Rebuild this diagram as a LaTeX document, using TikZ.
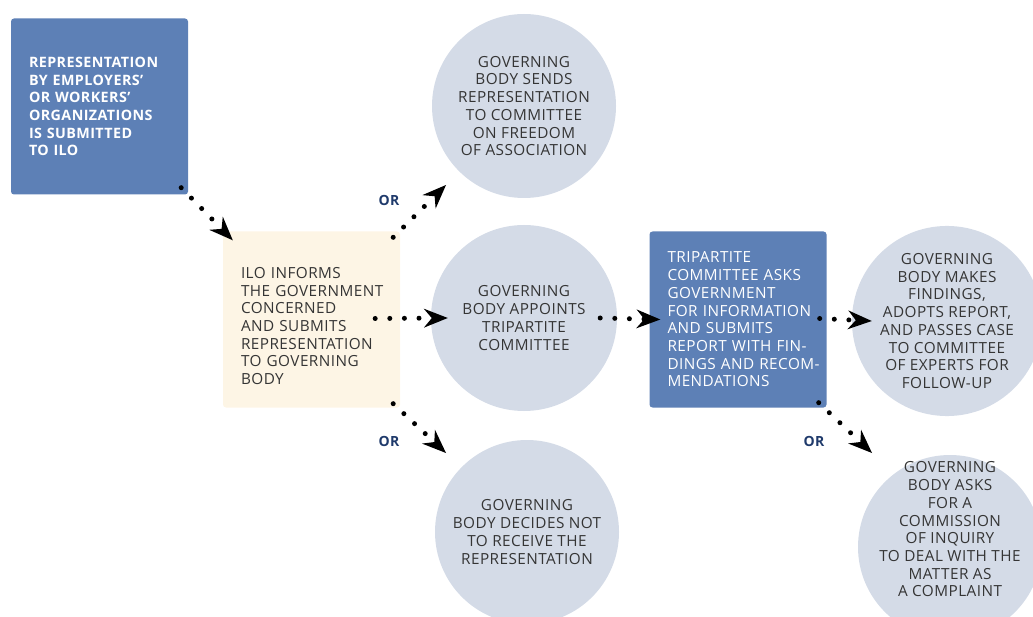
\documentclass[tikz,border=0pt]{standalone}
\usepackage{fontspec}
\setmainfont{Open Sans}[LetterSpace=3]
\usetikzlibrary{arrows.meta}
\definecolor{boxblue}{HTML}{5D80B6}
\definecolor{cream}{HTML}{FDF5E5}
\definecolor{circ}{HTML}{D4DBE7}
\definecolor{txt}{HTML}{353535}
\definecolor{ornavy}{HTML}{1F3A6B}
\begin{document}
\begin{tikzpicture}[x=1pt,y=-1pt,
  fnt/.style={font=\fontsize{15.3}{17.7}\selectfont},
  boxbase/.style={fnt, rectangle, rounded corners=3pt, minimum width=177pt, minimum height=176pt,
    text width=141pt, align=left, inner sep=0pt,
    execute at begin node={\hyphenpenalty=10000 \exhyphenpenalty=10000 }},
  bluebox/.style={boxbase, fill=boxblue, text=white},
  creambox/.style={boxbase, fill=cream, text=txt},
  disc/.style={fnt, circle, fill=circ, text=txt, minimum size=184pt, inner sep=0pt, align=center},
  conn/.style={line width=5pt, line cap=round, dash pattern=on 0pt off 14.6pt,
    -{Stealth[length=24pt 0 0, width=19pt 0 0, inset=8pt 0, line width=0pt 0 0]}},
  ortext/.style={font=\bfseries\fontsize{14}{16}\selectfont, text=ornavy}
]
\useasboundingbox (0,0) rectangle (1033,617);

\node[bluebox, font=\bfseries\fontsize{14.3}{17.7}\selectfont] (b1) at (99.5,106.5)
  {REPRESENTATION\\BY~EMPLOYERS’\\OR~WORKERS’\\ORGANIZATIONS\\IS~SUBMITTED\\TO~ILO};
\node[creambox] (b2) at (311.5,319.5)
  {\mbox{}\\[6.3pt]ILO~INFORMS\\\mbox{THE~GOVERNMENT}\\CONCERNED\\AND~SUBMITS\\\mbox{REPRESENTATION}\\TO~GOVERNING\\BODY};
\node[bluebox] (b3) at (738,319.5)
  {TRIPARTITE\\\mbox{COMMITTEE~ASKS}\\GOVERNMENT\\\mbox{FOR~INFORMATION}\\AND~SUBMITS\\\mbox{REPORT~WITH~FIN-}\\\mbox{DINGS~AND~RECOM-}\\\mbox{MENDATIONS}};

\node[disc] (c1) at (524,106) {GOVERNING\\BODY SENDS\\REPRESENTATION\\TO COMMITTEE\\ON FREEDOM\\OF ASSOCIATION};
\node[disc, minimum size=186pt] (c2) at (524,318) {GOVERNING\\BODY APPOINTS\\TRIPARTITE\\COMMITTEE};
\node[disc] (c3) at (527,532) {GOVERNING\\BODY DECIDES NOT\\TO RECEIVE THE\\REPRESENTATION};
\node[disc] (c4) at (947,321) {GOVERNING\\BODY MAKES\\FINDINGS,\\ADOPTS REPORT,\\AND PASSES CASE\\TO COMMITTEE\\OF EXPERTS FOR\\FOLLOW-UP};
\node[disc] (c5) at (950,547) {\raisebox{12pt}[0pt][0pt]{\begin{tabular}{@{}c@{}}GOVERNING\\BODY ASKS\\FOR A\\COMMISSION\\OF INQUIRY\\TO DEAL WITH THE\\MATTER AS\\A COMPLAINT\end{tabular}}};

\node[ortext] (or1) at (389,200) {OR};
\node[ortext] (or2) at (389,441) {OR};
\node[ortext] (or3) at (814,441) {OR};

\draw[conn] ([shift={(-7,-7)}]b1.south east) -- ([shift={(10,9)}]b2.north west);
\draw[conn] ([shift={(-7,6)}]b2.north east) -- ([shift={(-78,79)}]c1.center);
\draw[conn] ([shift={(-25,-1)}]b2.east) -- ([shift={(17,0)}]c2.west);
\draw[conn] ([shift={(-7,-4)}]b2.south east) -- ([shift={(-81,-79)}]c3.center);
\draw[conn] ([shift={(-17,0)}]c2.east) -- ([shift={(11,0)}]b3.west);
\draw[conn] ([shift={(-7,-1)}]b3.east) -- ([shift={(20,0)}]c4.west);
\draw[conn] ([shift={(-8,-5)}]b3.south east) -- ([shift={(-78,-94)}]c5.center);
\end{tikzpicture}
\end{document}
